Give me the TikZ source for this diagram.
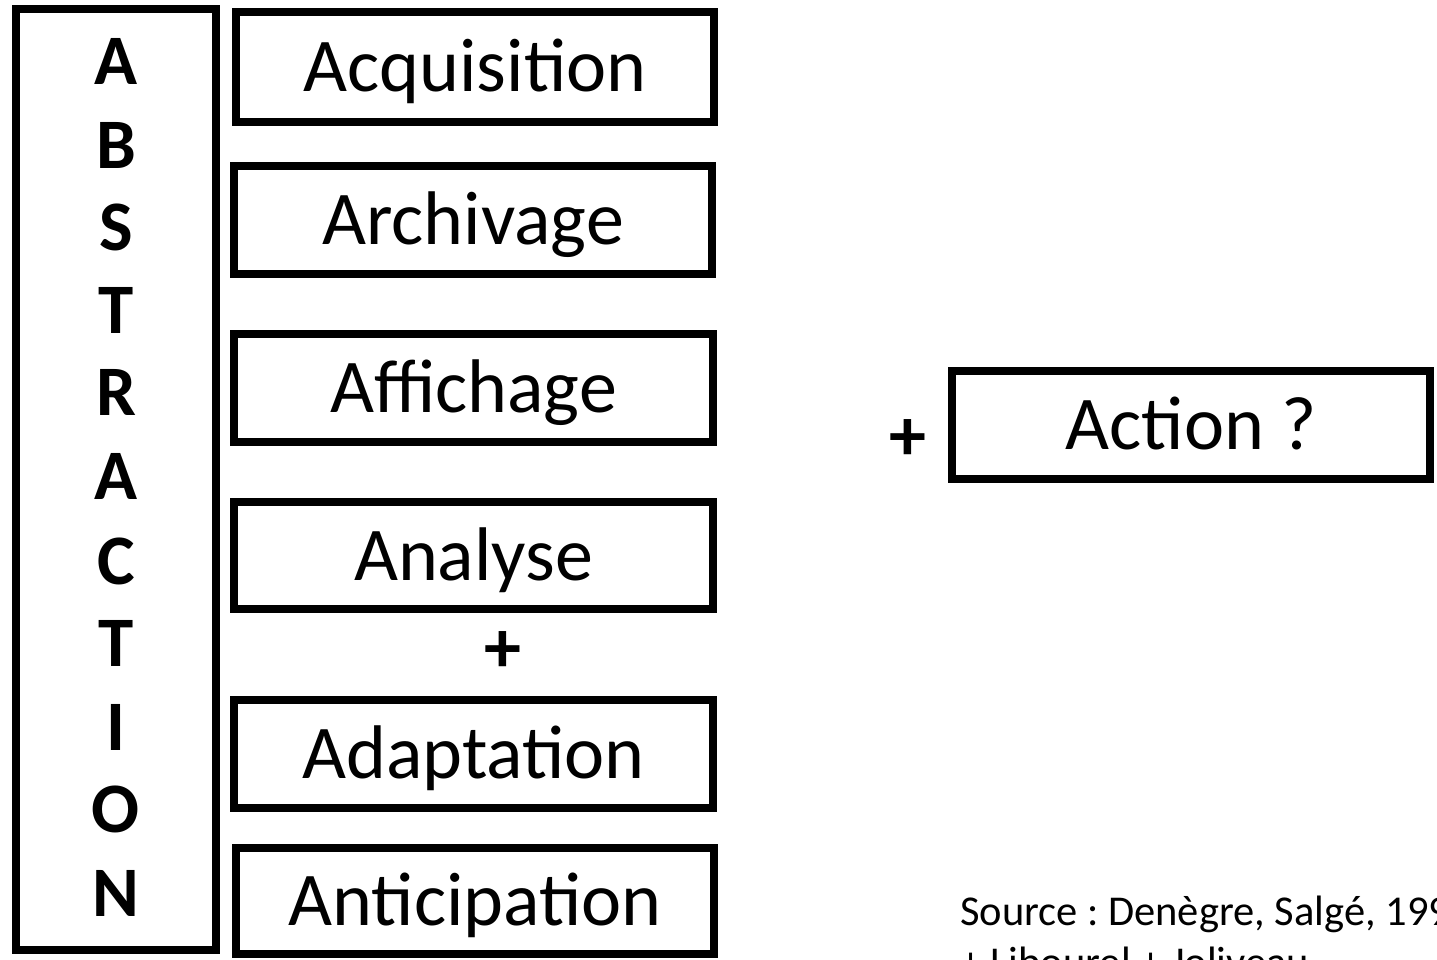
\documentclass[tikz,border=0pt]{standalone}
\usepackage{fontspec}
\setmainfont{Carlito}
\frenchspacing
\begin{document}
\begin{tikzpicture}[x=1pt,y=-1pt,
  abox/.style={draw=black, line width=8pt, inner sep=0pt, text height=49pt, text depth=0pt,
    font=\fontsize{76}{91}\selectfont},
  letter/.style={inner sep=0pt, text height=45.5pt, text depth=0pt,
    font=\fontsize{71}{85}\selectfont\bfseries},
  plus/.style={inner sep=0pt, font=\fontsize{74}{88}\selectfont\bfseries},
  src/.style={inner sep=0pt, anchor=base west, font=\fontsize{42.5}{51}\selectfont}]
\useasboundingbox (0,0) rectangle (1437,959);
\clip (0,0) rectangle (1437,959);
\fill[white] (0,0) rectangle (1437,959);
% abstraction column
\node[draw=black, line width=8pt, minimum width=200pt, minimum height=941pt, inner sep=0pt] (abs) at (115.5,479.5) {};
\foreach \l/\y [count=\i] in {A/61.5,B/146,S/228,T/311,R/393,A/477,C/562,T/644,I/728,O/810,N/894}
  \node[letter] (l\i) at (116,\y) {\l};
% right column boxes
\node[abox, minimum width=478pt, minimum height=110pt] (acq) at (475,67) {Acquisition};
\node[abox, minimum width=478pt, minimum height=108pt] (arc) at (473,220) {Archivage};
\node[abox, minimum width=479pt, minimum height=108pt] (aff) at (473.5,388) {Affichage};
\node[abox, minimum width=479pt, minimum height=107pt] (ana) at (473.5,555.5) {Analyse};
\node[plus] (p1) at (503,652) {+};
\node[abox, minimum width=479pt, minimum height=108pt] (ada) at (473.5,754) {Adaptation};
\node[abox, minimum width=478pt, minimum height=106pt] (ant) at (475,901) {Anticipation};
% action
\node[plus] (p2) at (908,440) {+};
\node[abox, minimum width=478pt, minimum height=108pt] (act) at (1191,425) {Action ?};
% source
\node[src] (s1) at (960,925) {Source : Denègre, Salgé, 1996};
\node[src] (s2) at (960,976) {+ Libourel + Joliveau};
\end{tikzpicture}
\end{document}
